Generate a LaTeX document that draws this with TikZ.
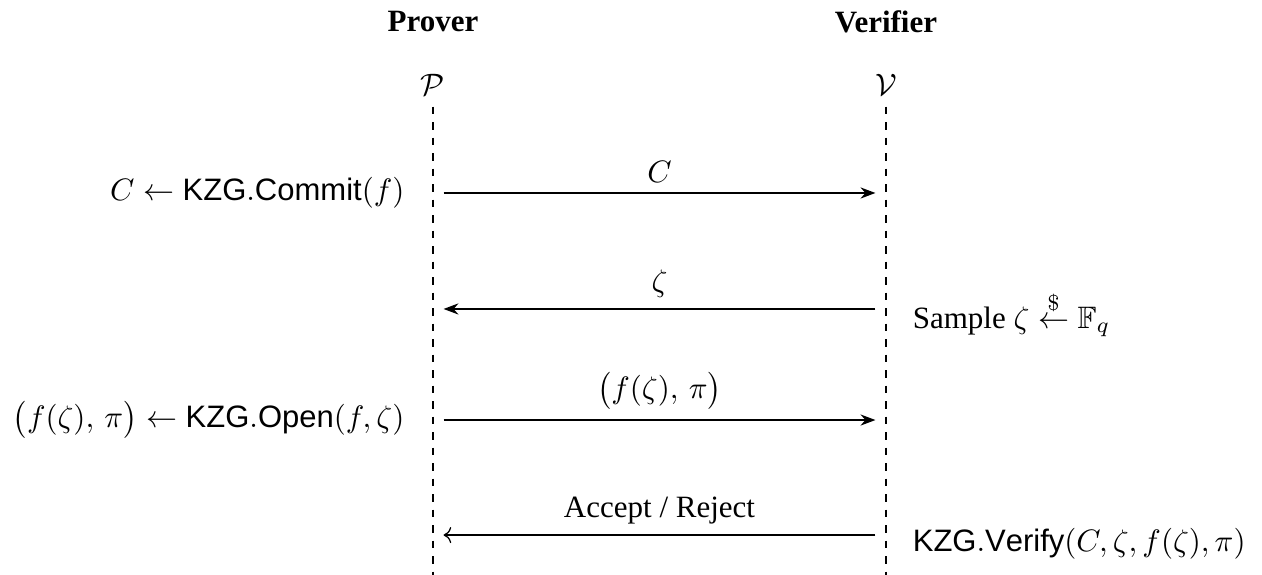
\documentclass[tikz,border=0pt]{standalone}
\usepackage{amssymb}
\usepackage{fontspec}
\setmainfont{Liberation Serif}
\setsansfont{Liberation Sans}
\setmathsf{Liberation Sans}
\usetikzlibrary{arrows.meta}

\begin{document}
\begin{tikzpicture}[party/.style = {font=\bfseries},
        life/.style = {dash pattern=on 2.4pt off 2.6pt},
        msg/.style = {-Stealth, shorten <=0.12cm, shorten >=0.12cm},
        reply/.style = {->, shorten <=0.12cm, shorten >=0.12cm}]
        \useasboundingbox (0,0) rectangle (14.308,-6.519);
        \node[party] (prover) at (4.909,-0.249) {Prover};
        \node[party] (verifier) at (10.045,-0.249) {Verifier};
        \node (P) at (4.909,-0.964) {$\mathcal{P}$};
        \node (V) at (10.045,-0.964) {$\mathcal{V}$};
        \coordinate (Pend) at (4.909,-6.519);
        \coordinate (Vend) at (10.045,-6.519);
        \draw[life] (P) -- (Pend);
        \draw[life] (V) -- (Vend);
        %
        \coordinate (p1) at (4.909,-2.188);
        \coordinate (v1) at (10.045,-2.188);
        \coordinate (p2) at (4.909,-3.503);
        \coordinate (v2) at (10.045,-3.503);
        \coordinate (p3) at (4.909,-4.762);
        \coordinate (v3) at (10.045,-4.762);
        \coordinate (p4) at (4.909,-6.066);
        \coordinate (v4) at (10.045,-6.066);
        %
        \draw[msg] (p1) -- node[above] (m1) {$C$} (v1);
        \draw[msg] (v2) -- node[above] (m2) {$\zeta$} (p2);
        \draw[msg] (p3) -- node[above] (m3) {$\bigl(f(\zeta),\, \pi\bigr)$} (v3);
        \draw[reply] (v4) -- node[above] (m4) {Accept / Reject} (p4);
        %
        \node[anchor=east] (commit) at ([xshift=-0.2cm]p1) {$C \leftarrow \mathsf{KZG.Commit}(f)$};
        \node[anchor=west] (sample) at ([xshift=0.18cm,yshift=-0.06cm]v2) {Sample $\zeta \stackrel{\$}{\leftarrow} \mathbb{F}_q$};
        \node[anchor=west] (verify) at ([xshift=0.18cm,yshift=-0.1cm]v4) {$\mathsf{KZG.Verify}(C, \zeta, f(\zeta), \pi)$};
        \node[anchor=east] (open) at ([xshift=-0.2cm]p3) {$\bigl(f(\zeta),\, \pi\bigr) \leftarrow \mathsf{KZG.Open}(f, \zeta)$};
      \end{tikzpicture}
\end{document}
